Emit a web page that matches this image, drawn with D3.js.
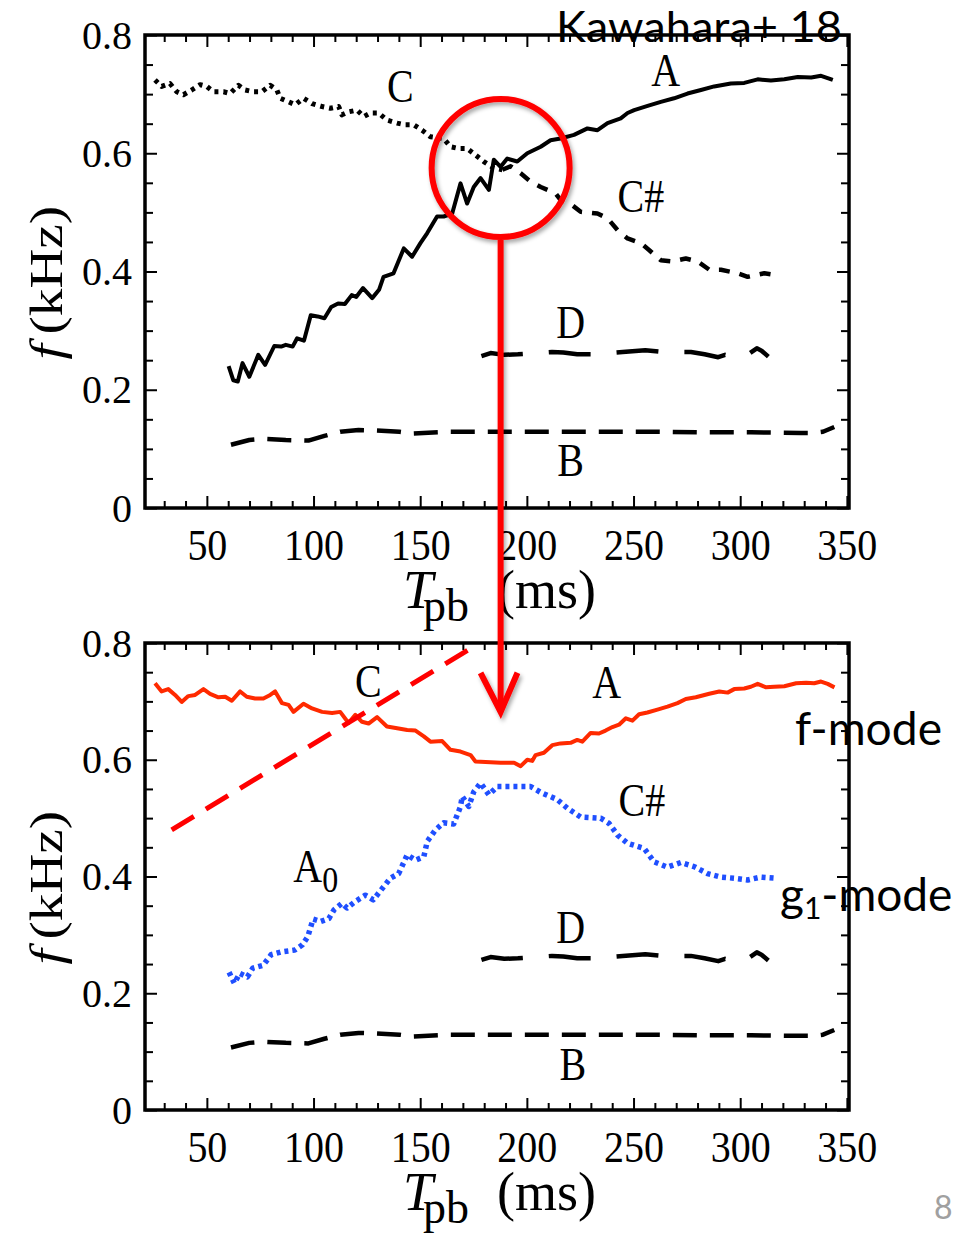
<!DOCTYPE html>
<html><head><meta charset="utf-8">
<script src="https://cdn.jsdelivr.net/npm/d3@7"></script>
<style>body{margin:0;background:#fff}svg{display:block}</style>
</head><body>
<script>
// ---------- data ----------
const xTickLabels = [50,100,150,200,250,300,350];
const yTickLabels = [0,0.2,0.4,0.6,0.8];
const xDomain = [21,351];
const yDomain = [0,0.8];

// top panel (Kawahara+18)
const topA = [[60.2,0.240],[62.4,0.216],[64.5,0.214],[66.7,0.245],[69.9,0.222],[74.1,0.259],[77.3,0.242],[81.6,0.274],[84.8,0.273],[87.0,0.276],[90.2,0.273],[92.3,0.287],[95.5,0.283],[98.7,0.326],[101.9,0.324],[105.1,0.321],[108.3,0.340],[111.5,0.346],[114.7,0.345],[117.9,0.360],[120.0,0.357],[123.2,0.372],[127.5,0.355],[130.7,0.369],[132.8,0.391],[137.5,0.397],[142.3,0.439],[146.2,0.425],[150.1,0.448],[153.3,0.465],[157.9,0.493],[161.0,0.493],[165.0,0.498],[168.9,0.549],[172.0,0.515],[175.1,0.543],[178.3,0.558],[182.2,0.538],[184.5,0.589],[187.7,0.577],[190.8,0.591],[195.5,0.586],[200.2,0.600],[206.5,0.611],[211.1,0.622],[215.8,0.625],[222.1,0.631],[228.4,0.642],[233.1,0.639],[237.8,0.651],[244.0,0.659],[247.2,0.668],[250.3,0.673],[256.6,0.680],[262.8,0.687],[269.0,0.693],[275.3,0.701],[281.6,0.707],[287.8,0.713],[295.6,0.718],[301.9,0.719],[308.2,0.725],[314.4,0.723],[320.7,0.725],[327.0,0.729],[333.3,0.728],[337.9,0.731],[343.4,0.724]];
const topC = [[25.7,0.724],[28.8,0.713],[32.7,0.718],[35.9,0.704],[39.0,0.699],[42.9,0.707],[46.8,0.716],[50.0,0.713],[53.1,0.704],[57.8,0.704],[60.9,0.701],[64.8,0.715],[67.9,0.707],[71.8,0.704],[75.8,0.704],[79.7,0.715],[82.8,0.707],[84.4,0.693],[88.3,0.687],[91.4,0.682],[95.3,0.693],[99.3,0.684],[104.0,0.679],[107.9,0.676],[111.8,0.679],[113.3,0.665],[116.4,0.670],[120.4,0.673],[123.5,0.662],[126.6,0.668],[130.5,0.668],[134.5,0.656],[139.2,0.651],[143.1,0.648],[147.0,0.648],[150.9,0.639],[154.8,0.628],[161.0,0.625],[164.2,0.611],[168.1,0.608],[172.0,0.608],[175.9,0.597],[179.8,0.586],[184.5,0.575],[188.5,0.572]];
const topCsharp = [[188.5,0.572],[192.4,0.578],[197.1,0.566],[201.8,0.552],[206.5,0.543],[213.5,0.532],[215.8,0.521],[221.3,0.512],[225.2,0.501],[233.1,0.498],[237.8,0.490],[242.5,0.470],[247.2,0.456],[253.4,0.448],[257.4,0.436],[262.8,0.419],[268.3,0.417],[274.5,0.422],[280.0,0.417],[285.5,0.403],[291.0,0.403],[298.7,0.397],[303.5,0.391],[311.3,0.397],[316.8,0.394]];

// shared by both panels
const seriesD = [[178.7,0.257],[183.0,0.262],[189.4,0.259],[195.8,0.260],[204.1,0.262],[211.8,0.264],[217.1,0.263],[223.6,0.260],[232.0,0.260],[244.9,0.264],[255.5,0.267],[264.1,0.264],[276.9,0.264],[283.3,0.260],[289.7,0.255],[292.9,0.259],[297.2,0.255],[303.0,0.258],[307.8,0.270],[310.0,0.266],[313.2,0.256]];
const seriesB = [[61.3,0.107],[69.9,0.115],[76.3,0.117],[87.0,0.115],[97.6,0.114],[105.1,0.122],[112.5,0.129],[121.1,0.132],[129.6,0.131],[140.3,0.129],[146.7,0.126],[164.2,0.129],[187.7,0.129],[211.1,0.129],[234.6,0.129],[258.1,0.129],[281.6,0.128],[305.0,0.128],[328.5,0.127],[334.5,0.127],[338.8,0.129],[344.1,0.137]];

// bottom panel (reinterpretation)
const fMode = [[25.7,0.731],[28.8,0.717],[31.9,0.721],[35.1,0.711],[38.2,0.699],[41.3,0.709],[44.5,0.711],[48.4,0.721],[51.5,0.713],[55.4,0.707],[58.6,0.708],[61.7,0.701],[65.6,0.717],[68.7,0.708],[72.6,0.705],[76.5,0.705],[79.7,0.711],[82.0,0.717],[85.2,0.697],[88.3,0.694],[90.6,0.682],[95.3,0.696],[99.3,0.688],[104.0,0.682],[108.7,0.680],[112.5,0.682],[116.4,0.663],[119.6,0.677],[122.7,0.665],[125.8,0.662],[129.8,0.673],[134.4,0.657],[139.2,0.654],[143.9,0.651],[147.8,0.650],[151.7,0.640],[154.8,0.631],[160.3,0.632],[164.2,0.617],[168.9,0.614],[173.6,0.608],[175.9,0.597],[187.7,0.595],[194.0,0.595],[197.1,0.589],[200.2,0.600],[202.5,0.598],[204.1,0.608],[208.0,0.612],[211.9,0.625],[215.8,0.628],[220.5,0.629],[223.6,0.634],[226.0,0.631],[229.9,0.646],[233.8,0.645],[236.9,0.650],[240.1,0.656],[243.2,0.660],[246.4,0.671],[249.5,0.667],[252.6,0.678],[256.5,0.681],[261.2,0.686],[265.9,0.691],[270.6,0.697],[274.5,0.704],[279.2,0.707],[285.5,0.713],[290.2,0.717],[294.1,0.715],[297.2,0.721],[301.9,0.722],[305.0,0.725],[308.2,0.730],[312.1,0.724],[316.0,0.725],[320.7,0.726],[326.2,0.731],[330.9,0.732],[334.7,0.731],[337.9,0.734],[341.0,0.730],[344.2,0.724]];
const g1Mode = [[60.4,0.236],[62.9,0.217],[65.4,0.234],[69.0,0.228],[71.5,0.243],[76.4,0.248],[80.1,0.266],[85.0,0.271],[91.2,0.274],[94.8,0.283],[97.3,0.297],[99.8,0.327],[103.4,0.323],[107.2,0.328],[109.6,0.343],[113.3,0.354],[115.7,0.346],[119.5,0.357],[124.3,0.368],[128.0,0.360],[131.7,0.377],[136.0,0.397],[139.9,0.405],[143.9,0.437],[147.8,0.428],[151.7,0.434],[153.3,0.460],[157.2,0.480],[161.0,0.492],[165.7,0.490],[168.9,0.520],[169.7,0.537],[172.8,0.520],[175.1,0.545],[178.3,0.560],[182.2,0.540],[186.1,0.554],[190.8,0.554],[201.8,0.554],[206.5,0.544],[214.2,0.532],[219.0,0.517],[225.2,0.502],[234.6,0.500],[238.5,0.491],[242.5,0.471],[247.2,0.457],[255.0,0.448],[259.7,0.425],[265.9,0.416],[272.2,0.424],[278.4,0.417],[284.7,0.405],[291.0,0.399],[297.2,0.397],[303.5,0.394],[309.7,0.399],[316.8,0.397]];

// annotations (data coordinates)
const circleCenter = [187.7, 0.575];
const arrowTip = [187.7, 0.682];
const arrowArmL = [178.3, 0.749];
const arrowArmR = [195.6, 0.749];
const redDash = [[33.5, 0.480],[175.1, 0.794]];

// ---------- drawing ----------
const W = 977, H = 1234;
const svg = d3.select("body").append("svg").attr("width", W).attr("height", H);
const defs = svg.append("defs");
const f = defs.append("filter").attr("id","sh").attr("x","-20%").attr("y","-20%").attr("width","140%").attr("height","140%");
f.append("feDropShadow").attr("dx",2).attr("dy",3).attr("stdDeviation",2).attr("flood-color","#000").attr("flood-opacity",0.35);

const SERIF = "'Liberation Serif','Times New Roman',serif";
const SANS = "Lato,'Open Sans',sans-serif";

function makePanel(top, bottom, titleBase) {
  const x = d3.scaleLinear(xDomain, [145, 849]);
  const y = d3.scaleLinear(yDomain, [bottom, top]);
  const g = svg.append("g");
  const L = 145, R = 849;
  const tickStyle = sel => { sel.select(".domain").remove(); sel.selectAll("line").attr("stroke","#000").attr("stroke-width",2); sel.selectAll("text").remove(); };
  const minorX = d3.range(30, 351, 10).filter(v => v % 50 !== 0);
  const majorX = d3.range(50, 351, 50);
  const minorY = d3.range(0, 0.81, 0.05).map(v => +v.toFixed(2)).filter(v => Math.round(v*100) % 20 !== 0);
  const majorY = yTickLabels;
  g.append("g").attr("transform",`translate(0,${bottom})`).call(d3.axisBottom(x).tickValues(minorX).tickSize(-7)).call(tickStyle);
  g.append("g").attr("transform",`translate(0,${bottom})`).call(d3.axisBottom(x).tickValues(majorX).tickSize(-12)).call(tickStyle);
  g.append("g").attr("transform",`translate(0,${top})`).call(d3.axisTop(x).tickValues(minorX).tickSize(-7)).call(tickStyle);
  g.append("g").attr("transform",`translate(0,${top})`).call(d3.axisTop(x).tickValues(majorX).tickSize(-12)).call(tickStyle);
  g.append("g").attr("transform",`translate(${L},0)`).call(d3.axisLeft(y).tickValues(minorY).tickSize(-8)).call(tickStyle);
  g.append("g").attr("transform",`translate(${L},0)`).call(d3.axisLeft(y).tickValues(majorY).tickSize(-12)).call(tickStyle);
  g.append("g").attr("transform",`translate(${R},0)`).call(d3.axisRight(y).tickValues(minorY).tickSize(-8)).call(tickStyle);
  g.append("g").attr("transform",`translate(${R},0)`).call(d3.axisRight(y).tickValues(majorY).tickSize(-12)).call(tickStyle);
  g.append("rect").attr("x",L).attr("y",top).attr("width",R-L).attr("height",bottom-top)
    .attr("fill","none").attr("stroke","#000").attr("stroke-width",3.5);
  const xl = g.append("g").attr("transform",`translate(0,${bottom})`)
    .call(d3.axisBottom(x).tickValues(xTickLabels).tickSize(0).tickFormat(d3.format("d")));
  xl.select(".domain").remove();
  xl.selectAll("text").attr("y", 0).attr("dy", 0)
    .attr("transform","translate(0,52) scale(1,1.12)")
    .attr("font-family", SERIF).attr("font-size", 40).attr("fill","#000");
  const yl = g.append("g").attr("transform",`translate(${L},0)`)
    .call(d3.axisLeft(y).tickValues(yTickLabels).tickSize(0).tickPadding(13).tickFormat(d => d === 0 ? "0" : d.toFixed(1)));
  yl.select(".domain").remove();
  yl.selectAll("text").attr("dy","0.33em").attr("font-family", SERIF).attr("font-size", 40).attr("fill","#000");
  const xt = g.append("text").attr("font-family", SERIF).attr("font-size", 54).attr("fill","#000")
    .attr("y", titleBase);
  xt.append("tspan").attr("x", 403).attr("font-style","italic").text("T");
  xt.append("tspan").attr("x", 423).attr("dy", 13).attr("font-size", 46).text("pb");
  xt.append("tspan").attr("x", 497).attr("dy", -13).text("(ms)");
  const yc = (top + bottom) / 2;
  const yt = g.append("text").attr("font-family", SERIF).attr("font-size", 46).attr("fill","#000")
    .attr("transform", `translate(62,${yc + 88}) rotate(-90) scale(1.2,1)`);
  yt.append("tspan").attr("font-style","italic").text("f");
  yt.append("tspan").attr("dx", 8).text("(kHz)");
  return {x, y, g};
}

function drawLine(p, data, color, width, dash) {
  const line = d3.line().x(d => p.x(d[0])).y(d => p.y(d[1]));
  p.g.append("path").datum(data).attr("d", line).attr("fill","none")
    .attr("stroke", color).attr("stroke-width", width)
    .attr("stroke-linejoin","round")
    .attr("stroke-dasharray", dash || null);
}
function label(p, t, fv, str, sub) {
  const tx = p.g.append("text").attr("font-family", SERIF).attr("font-size", 40).attr("fill","#000")
    .attr("text-anchor", sub ? "start" : "middle")
    .attr("transform", `translate(${p.x(t)},${p.y(fv)}) scale(1,1.15)`);
  tx.append("tspan").text(str);
  if (sub) tx.append("tspan").attr("font-size", 32).attr("dy", 8).text(sub);
}

// top panel
const P1 = makePanel(35, 508, 608);
drawLine(P1, seriesB, "#000", 4.5, "24,13");
drawLine(P1, seriesD, "#000", 4.5, "42,26");
drawLine(P1, topC, "#000", 5, "4,5");
drawLine(P1, topCsharp, "#000", 4.5, "11,10");
drawLine(P1, topA, "#000", 4);
label(P1, 140.7, 0.687, "C");
label(P1, 265.1, 0.714, "A");
label(P1, 253.4, 0.501, "C#");
label(P1, 220.5, 0.288, "D");
label(P1, 220.5, 0.054, "B");

// bottom panel
const P2 = makePanel(643, 1110, 1210);
drawLine(P2, seriesB, "#000", 4.5, "24,13");
drawLine(P2, seriesD, "#000", 4.5, "42,26");
drawLine(P2, fMode, "#ff2a00", 4);
drawLine(P2, g1Mode, "#1f4fff", 5.5, "4,4");
label(P2, 125.7, 0.7075, "C");
label(P2, 237.4, 0.706, "A");
label(P2, 253.9, 0.504, "C#");
label(P2, 90.5, 0.390, "A", "0");
label(P2, 220.5, 0.286, "D");
label(P2, 221.5, 0.051, "B");

// red dashed line (bottom)
P2.g.append("path").datum(redDash)
  .attr("d", d3.line().x(d => P2.x(d[0])).y(d => P2.y(d[1])))
  .attr("stroke","#ff0000").attr("stroke-width",5).attr("stroke-dasharray","26,14").attr("fill","none");

// red annotations: circle + arrow
const ann = svg.append("g").attr("filter","url(#sh)");
const cx = P1.x(circleCenter[0]), cy = P1.y(circleCenter[1]);
const r = 69;
ann.append("circle").attr("cx", cx).attr("cy", cy).attr("r", r)
  .attr("fill","none").attr("stroke","#ff0000").attr("stroke-width",6);
ann.append("path").datum([[cx, cy + r + 3],[P2.x(arrowTip[0]), P2.y(arrowTip[1])]])
  .attr("d", d3.line()).attr("stroke","#ff0000").attr("stroke-width",6).attr("fill","none");
ann.append("path").datum([[P2.x(arrowArmL[0]), P2.y(arrowArmL[1])],[P2.x(arrowTip[0]), P2.y(arrowTip[1])],[P2.x(arrowArmR[0]), P2.y(arrowArmR[1])]])
  .attr("d", d3.line()).attr("stroke","#ff0000").attr("stroke-width",6).attr("fill","none")
  .attr("stroke-linejoin","miter");

// slide texts
svg.append("text").attr("x", 556).attr("y", 42).attr("font-family", SANS).attr("font-size", 42)
  .attr("textLength", 286).attr("lengthAdjust","spacingAndGlyphs").attr("fill","#000").text("Kawahara+ 18");
svg.append("text").attr("x", 795).attr("y", 745).attr("font-family", SANS).attr("font-size", 46)
  .attr("textLength", 147).attr("lengthAdjust","spacingAndGlyphs").attr("fill","#000").text("f-mode");
const g1t = svg.append("text").attr("x", 780).attr("y", 911).attr("font-family", SANS).attr("font-size", 46).attr("fill","#000");
g1t.append("tspan").text("g");
g1t.append("tspan").attr("font-size", 30).attr("dy", 8).text("1");
g1t.append("tspan").attr("dy", -8).text("-mode");
svg.append("text").attr("x", 934).attr("y", 1219).attr("font-family", SANS).attr("font-size", 32)
  .attr("fill","#a0a0a0").text("8");
</script>
</body></html>
